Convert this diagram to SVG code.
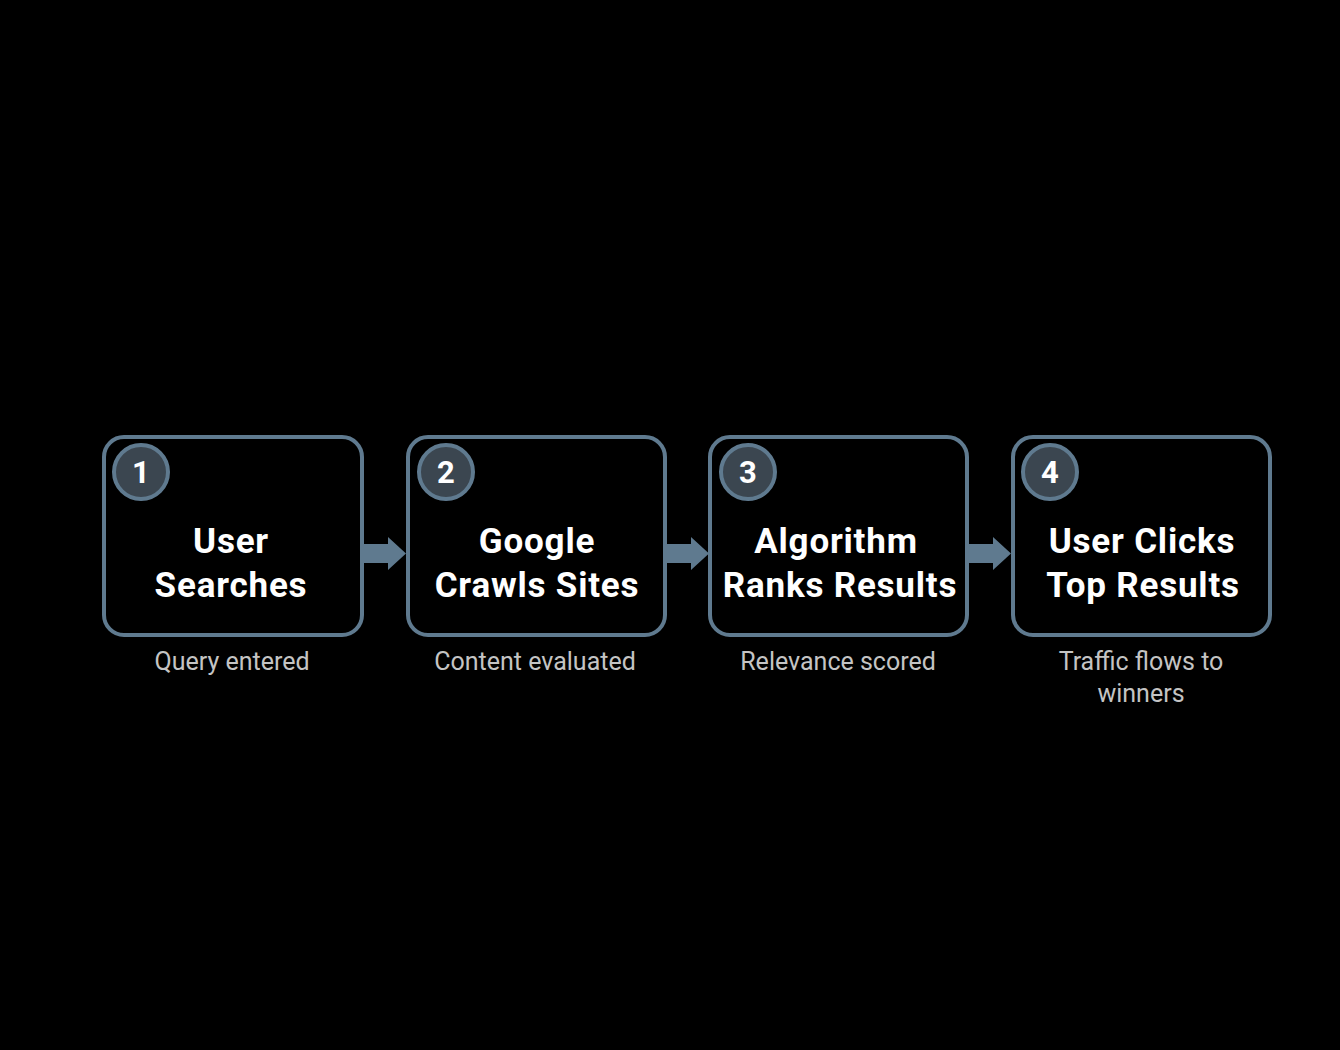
<svg xmlns="http://www.w3.org/2000/svg" width="1340" height="1050" viewBox="0 0 1340 1050">
<style>
.box{fill:#000;stroke:#5f7a8f;stroke-width:4}
.badge{fill:#3b4650;stroke:#5f7a8f;stroke-width:4}
.num{font-family:Roboto,"Liberation Sans",sans-serif;font-weight:700;font-size:31px;fill:#fff;text-anchor:middle}
.title{font-family:Roboto,"Liberation Sans",sans-serif;font-weight:700;font-size:35px;letter-spacing:0.8px;fill:#fff;text-anchor:middle}
.sub{font-family:Roboto,"Liberation Sans",sans-serif;font-size:25px;fill:#c4c4c4;text-anchor:middle}
.arrow{fill:#5f7a8f}
</style>
<rect width="1340" height="1050" fill="#000"/>
<g id="connectors">
<path class="arrow" d="M362,544 H388 V537 L406,553.5 L388,570 V563 H362 Z"/>
<path class="arrow" d="M665,544 H691 V537 L709,553.5 L691,570 V563 H665 Z"/>
<path class="arrow" d="M967,544 H993 V537 L1011,553.5 L993,570 V563 H967 Z"/>
</g>
<g id="node1">
<rect class="box" x="104" y="437" width="258" height="198" rx="20"/>
<circle class="badge" cx="141" cy="472" r="27"/>
<text class="num" x="141" y="483">1</text>
<text class="title" x="231" y="553">User</text>
<text class="title" x="231" y="597">Searches</text>
<text class="sub" x="232" y="670">Query entered</text>
</g>
<g id="node2">
<rect class="box" x="408" y="437" width="257" height="198" rx="20"/>
<circle class="badge" cx="446" cy="472" r="27"/>
<text class="num" x="446" y="483">2</text>
<text class="title" x="537" y="553">Google</text>
<text class="title" x="537" y="597">Crawls Sites</text>
<text class="sub" x="535" y="670">Content evaluated</text>
</g>
<g id="node3">
<rect class="box" x="710" y="437" width="257" height="198" rx="20"/>
<circle class="badge" cx="748" cy="472" r="27"/>
<text class="num" x="748" y="483">3</text>
<text class="title" x="836" y="553">Algorithm</text>
<text class="title" x="840" y="597">Ranks Results</text>
<text class="sub" x="838" y="670">Relevance scored</text>
</g>
<g id="node4">
<rect class="box" x="1013" y="437" width="257" height="198" rx="20"/>
<circle class="badge" cx="1050" cy="472" r="27"/>
<text class="num" x="1050" y="483">4</text>
<text class="title" x="1142" y="553">User Clicks</text>
<text class="title" x="1143" y="597">Top Results</text>
<text class="sub" x="1141" y="670">Traffic flows to</text>
<text class="sub" x="1141" y="702">winners</text>
</g>
</svg>
